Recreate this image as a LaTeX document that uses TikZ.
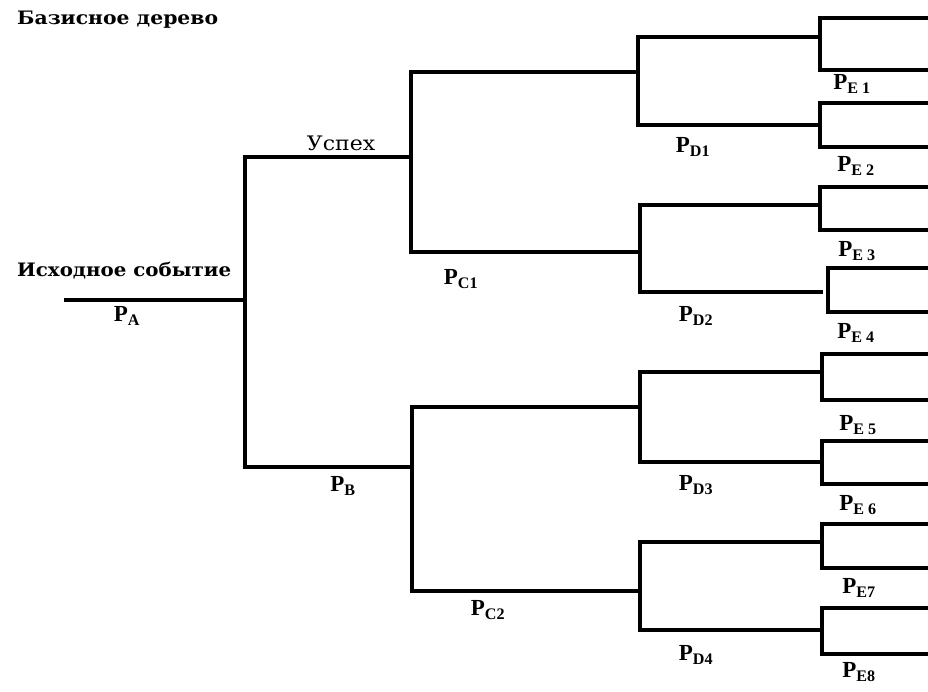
\documentclass[tikz,border=0pt]{standalone}
\usepackage{fontspec}
\setmainfont{Liberation Serif}
\newfontfamily\cyrb{DejaVu Serif}
\begin{document}
\begin{tikzpicture}[x=1pt,y=-1pt,
  br/.style={line width=3.2pt,line join=miter,line cap=rect},
  pl/.style={font=\fontsize{23}{26}\selectfont\bfseries,inner sep=0pt},
  cyr/.style={font=\fontsize{18.5}{22}\selectfont\cyrb\bfseries,inner sep=0pt,anchor=west},
  uspeh/.style={font=\fontsize{20}{24}\selectfont\cyrb,inner sep=0pt}]
\useasboundingbox (0,0) rectangle (928,691);
% level A
\coordinate (a0) at (66,300);
\coordinate (a) at (245,300);
\coordinate (c1) at (411,157);
\coordinate (c2) at (412,467);
\draw[br] (a0) -- (a);
\draw[br] (c1) -| (a) |- (c2);
% level C
\coordinate (d1) at (638,72);
\coordinate (d2) at (640,252);
\coordinate (d3) at (640,407);
\coordinate (d4) at (640,591);
\draw[br] (d1) -| (c1) |- (d2);
\draw[br] (d3) -| (c2) |- (d4);
% level D
\coordinate (e1) at (820,37);
\coordinate (e2) at (820,125);
\coordinate (e3) at (820,205);
\coordinate (e4a) at (821,292);
\coordinate (e4) at (828,292);
\coordinate (e5) at (822,372);
\coordinate (e6) at (822,462);
\coordinate (e7) at (822,542);
\coordinate (e8) at (822,630);
\draw[br] (e1) -| (d1) |- (e2);
\draw[br] (e3) -| (d2) |- (e4a);
\draw[br] (e5) -| (d3) |- (e6);
\draw[br] (e7) -| (d4) |- (e8);
% leaves
\coordinate (l1) at (928,18);   \coordinate (l2) at (928,70);
\coordinate (l3) at (928,103);  \coordinate (l4) at (928,147);
\coordinate (l5) at (928,187);  \coordinate (l6) at (928,230);
\coordinate (l7) at (928,268);  \coordinate (l8) at (928,312);
\coordinate (l9) at (928,354);  \coordinate (l10) at (928,400);
\coordinate (l11) at (928,441); \coordinate (l12) at (928,484);
\coordinate (l13) at (928,524); \coordinate (l14) at (928,568);
\coordinate (l15) at (928,608); \coordinate (l16) at (928,654);
\draw[br] (l1) -| (e1) |- (l2);
\draw[br] (l3) -| (e2) |- (l4);
\draw[br] (l5) -| (e3) |- (l6);
\draw[br] (l7) -| (e4) |- (l8);
\draw[br] (l9) -| (e5) |- (l10);
\draw[br] (l11) -| (e6) |- (l12);
\draw[br] (l13) -| (e7) |- (l14);
\draw[br] (l15) -| (e8) |- (l16);
% texts
\node[cyr] (title) at (17,20) {\scalebox{1.1}[1]{Базисное дерево}};
\node[cyr] (ish) at (17,271) {\scalebox{1.07}[1]{Исходное событие}};
\node[uspeh] (usp) at (341,143) {\scalebox{1.1}[1]{Успех}};
\node[pl] (pa) at (127,316) {P\textsubscript{A}};
\node[pl] (pb) at (343,486) {P\textsubscript{B}};
\node[pl] (pc1) at (461,279) {P\textsubscript{C1}};
\node[pl] (pc2) at (488,610) {P\textsubscript{C2}};
\node[pl] (pd1) at (693,147) {P\textsubscript{D1}};
\node[pl] (pd2) at (696,316) {P\textsubscript{D2}};
\node[pl] (pd3) at (696,485) {P\textsubscript{D3}};
\node[pl] (pd4) at (696,655) {P\textsubscript{D4}};
\node[pl] (pe1) at (852,84) {P\textsubscript{E 1}};
\node[pl] (pe2) at (856,166) {P\textsubscript{E 2}};
\node[pl] (pe3) at (857,251) {P\textsubscript{E 3}};
\node[pl] (pe4) at (856,333) {P\textsubscript{E 4}};
\node[pl] (pe5) at (858,425) {P\textsubscript{E 5}};
\node[pl] (pe6) at (858,505) {P\textsubscript{E 6}};
\node[pl] (pe7) at (859,588) {P\textsubscript{E7}};
\node[pl] (pe8) at (859,672) {P\textsubscript{E8}};
\end{tikzpicture}
\end{document}
